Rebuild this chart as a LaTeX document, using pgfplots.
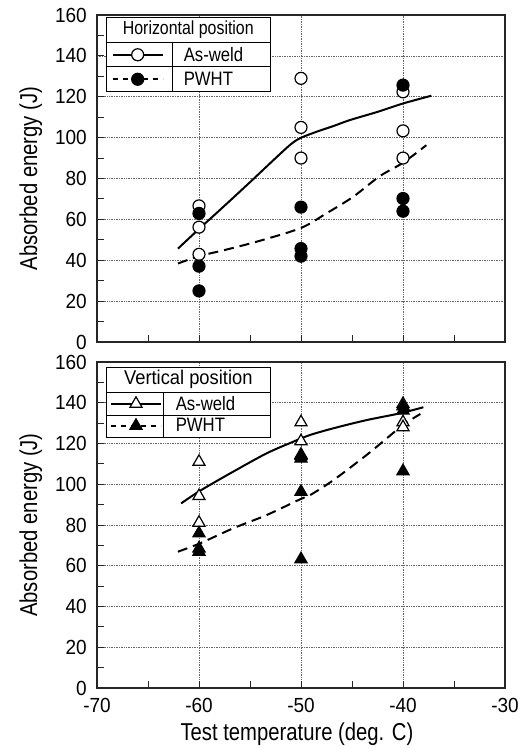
\documentclass[border=0pt]{standalone}
\usepackage{fontspec}
\usepackage{pgfplots}
\pgfplotsset{compat=1.18}
\setmainfont{Liberation Sans}
\newfontfamily\tickfont[FakeStretch=0.93]{Liberation Sans}
\newfontfamily\labelfont[FakeStretch=0.83]{Liberation Sans}
\newfontfamily\legfont[FakeStretch=0.86]{Liberation Sans}
\newfontfamily\htitlefont[FakeStretch=0.84]{Liberation Sans}
\newfontfamily\vtitlefont[FakeStretch=0.92]{Liberation Sans}

\pgfplotsset{
  panel/.style={
    scale only axis, width=408bp,
    xmin=-70, xmax=-30, ymin=0, ymax=160,
    xtick={-70,-60,...,-30}, ytick={0,20,...,160},
    minor x tick num=1, minor y tick num=1,
    xtick pos=left, ytick pos=left, tick align=inside,
    major tick length=7bp, minor tick length=7bp,
    axis line style={line width=1.2bp, black!85},
    tick style={line width=0.9bp, black!85},
    grid=major,
    major grid style={line width=0.7bp, densely dotted, black!60},
    yticklabels={0,20,40,60,80,100,120,140,160},
    yticklabel style={font=\tickfont\fontsize{20.5}{22}\selectfont, inner sep=0pt, anchor=east, xshift=-10bp},
    xticklabel style={font=\tickfont\fontsize{20.5}{22}\selectfont, inner sep=0pt, anchor=north, yshift=-10bp},
    ylabel={Absorbed energy (J)},
    ylabel style={font=\labelfont\fontsize{24.5}{26}\selectfont, at={(axis description cs:-0.147,0.5)}, anchor=base, inner sep=0pt},
    legend cell align=left,
    legend image code/.code={
      \draw[mark repeat=2, mark phase=2, ##1] plot coordinates {(0bp,0bp) (25bp,0bp) (50bp,0bp)};
    },
  },
  fitline/.style={line width=2bp, black, smooth, tension=0.5},
  fitdash/.style={line width=2bp, black, smooth, tension=0.5, dash pattern=on 10bp off 6bp},
}

\begin{document}
\begin{tikzpicture}
\useasboundingbox (-97bp,15bp) rectangle (431bp,-733bp);

% ---------- horizontal position ----------
\begin{axis}[panel, name=top, height=327bp, at={(0,0)}, anchor=north west,
  xticklabels={},
  legend style={at={(axis description cs:0.03603,0.91651)}, anchor=north west,
    draw=none, fill=none, inner sep=0pt, row sep=0pt, column sep=20.3bp,
    nodes={font=\legfont\fontsize{19.5}{21}\selectfont, inner sep=0pt, minimum height=24.5bp, anchor=west}},
]
  % legend table
  \fill[white] ([xshift=9.7bp,yshift=-2.3bp]rel axis cs:0,1) rectangle ([xshift=173bp,yshift=-76.7bp]rel axis cs:0,1);
  \draw[line width=1bp] ([xshift=9.7bp,yshift=-2.3bp]rel axis cs:0,1) rectangle ([xshift=173bp,yshift=-76.7bp]rel axis cs:0,1);
  \draw[line width=1bp] ([xshift=9.7bp,yshift=-27.3bp]rel axis cs:0,1) -- ([xshift=173bp,yshift=-27.3bp]rel axis cs:0,1);
  \draw[line width=1bp] ([xshift=9.7bp,yshift=-51.7bp]rel axis cs:0,1) -- ([xshift=173bp,yshift=-51.7bp]rel axis cs:0,1);
  \draw[line width=1bp] ([xshift=75.7bp,yshift=-27.3bp]rel axis cs:0,1) -- ([xshift=75.7bp,yshift=-76.7bp]rel axis cs:0,1);
  \node[font=\htitlefont\fontsize{19}{21}\selectfont, inner sep=0pt] at ([xshift=91.3bp,yshift=-14.8bp]rel axis cs:0,1) {Horizontal position};

  % fitted curves
  \addplot[fitline, forget plot] coordinates {
    (-62.06,45.7) (-60,55.3) (-57.6,66.2) (-55,78.2) (-52.7,89.0)
    (-51.08,96.4) (-50.1,99.7) (-48.46,102.9) (-46.8,105.7) (-45.2,108.6)
    (-42.5,112.6) (-40,116.7) (-37.22,120.5)};
  \addplot[fitdash, forget plot] coordinates {
    (-62.06,38.4) (-60,42) (-57.32,45.2) (-54.05,49.5) (-50,55.8) (-47.52,62.9)
    (-44.9,71) (-42.29,81.1) (-40,87.7) (-37.71,96.3)};

  % measured points
  \addplot[only marks, mark=*, mark size=6bp, mark options={fill=white, draw=black, line width=1.2bp}, forget plot] coordinates {
    (-60,66.6) (-60,56.2) (-60,42.9)
    (-50,129) (-50,105) (-50,90)
    (-40,122.4) (-40,103.3) (-40,90)};
  \addplot[only marks, mark=*, mark size=6bp, mark options={fill=black, draw=black, line width=1.2bp}, forget plot] coordinates {
    (-60,62.9) (-60,37.1) (-60,25)
    (-50,66) (-50,45.7) (-50,42)
    (-40,125.7) (-40,70.2) (-40,64)};

  \addlegendimage{line width=1.6bp, black, mark=*, mark size=6bp, mark options={fill=white, line width=1.2bp, solid}}
  \addlegendentry{As-weld}
  \addlegendimage{line width=1.6bp, black, dash pattern=on 5bp off 5bp, mark=*, mark size=6bp, mark options={fill=black, line width=1.2bp, solid}}
  \addlegendentry{PWHT}
\end{axis}

% ---------- vertical position ----------
\begin{axis}[panel, name=bot, height=326bp, at={(0,-347bp)}, anchor=north west,
  xticklabels={-70,-60,-50,-40,-30},
  xlabel={Test temperature (deg. C)},
  xlabel style={font=\labelfont\fontsize{24.5}{26}\selectfont, at={(axis description cs:0.49,0)}, anchor=base, yshift=-52bp, inner sep=0pt},
  legend style={at={(axis description cs:0.03186,0.90613)}, anchor=north west,
    draw=none, fill=none, inner sep=0pt, row sep=0pt, column sep=14bp,
    nodes={font=\legfont\fontsize{19.5}{21}\selectfont, inner sep=0pt, minimum height=22bp, anchor=west}},
]
  % legend table
  \fill[white] ([xshift=9.7bp,yshift=-5bp]rel axis cs:0,1) rectangle ([xshift=173bp,yshift=-75bp]rel axis cs:0,1);
  \draw[line width=1bp] ([xshift=9.7bp,yshift=-5bp]rel axis cs:0,1) rectangle ([xshift=173bp,yshift=-75bp]rel axis cs:0,1);
  \draw[line width=1bp] ([xshift=9.7bp,yshift=-30.3bp]rel axis cs:0,1) -- ([xshift=173bp,yshift=-30.3bp]rel axis cs:0,1);
  \draw[line width=1bp] ([xshift=9.7bp,yshift=-53bp]rel axis cs:0,1) -- ([xshift=173bp,yshift=-53bp]rel axis cs:0,1);
  \draw[line width=1bp] ([xshift=66.3bp,yshift=-30.3bp]rel axis cs:0,1) -- ([xshift=66.3bp,yshift=-75bp]rel axis cs:0,1);
  \node[font=\vtitlefont\fontsize{20}{22}\selectfont, inner sep=0pt] at ([xshift=91.3bp,yshift=-17.6bp]rel axis cs:0,1) {Vertical position};

  % fitted curves
  \addplot[fitline, forget plot] coordinates {
    (-61.75,90.6) (-59.9,96.8) (-56.64,106.2) (-53.36,115.2) (-50.75,120.9)
    (-49.1,124.2) (-46.8,127.5) (-43.56,131.5) (-40.3,134.8) (-38.0,137.8)};
  \addplot[fitdash, forget plot] coordinates {
    (-62.07,66.9) (-59.9,71.0) (-56.64,78.4) (-53.36,84.9) (-50.1,92.6)
    (-49.1,94.7) (-46.8,102.1) (-43.56,114.4) (-41.6,122.5) (-40.0,129.1) (-38.3,134.5)};

  % measured points
  \addplot[only marks, mark=triangle*, mark size=7bp, mark options={fill=white, draw=black, line width=1.2bp}, forget plot] coordinates {
    (-60,111.0) (-60,94.2) (-60,81.1)
    (-50,130.4) (-50,121.1) (-50,114.5)
    (-40,139.4) (-40,130.4) (-40,128.0)};
  \addplot[only marks, mark=triangle*, mark size=7bp, mark options={fill=black, draw=black, line width=1.2bp}, forget plot] coordinates {
    (-60,75.9) (-60,68.5) (-60,66.9)
    (-50,113.8) (-50,112.6) (-50,96.3) (-50,63.2)
    (-40,138.3) (-40,136.2) (-40,106.4)};

  \addlegendimage{line width=1.6bp, black, mark=triangle*, mark size=7bp, mark options={fill=white, line width=1.2bp, solid}}
  \addlegendentry{As-weld}
  \addlegendimage{line width=1.6bp, black, dash pattern=on 5bp off 5bp, mark=triangle*, mark size=7bp, mark options={fill=black, line width=1.2bp, solid}}
  \addlegendentry{PWHT}
\end{axis}
\end{tikzpicture}
\end{document}
